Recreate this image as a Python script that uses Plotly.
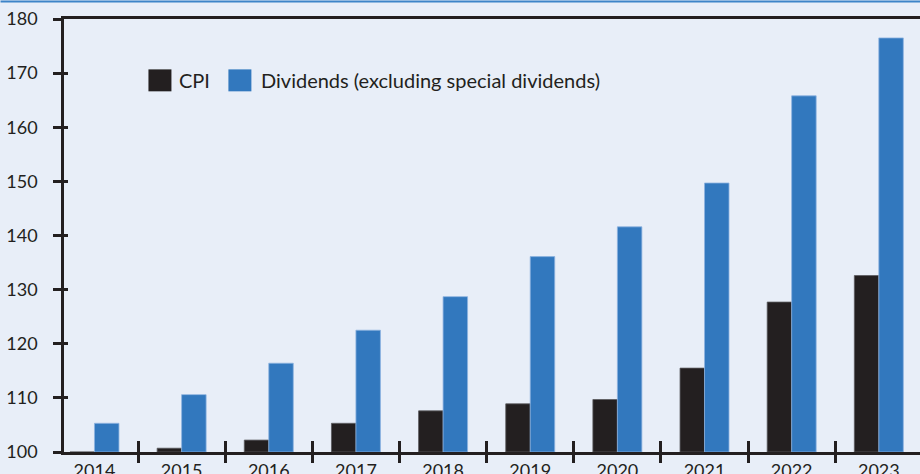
import plotly.graph_objects as go

# ---- data ----
years = ["2014", "2015", "2016", "2017", "2018", "2019", "2020", "2021", "2022", "2023"]
cpi = [100.0, 100.7, 102.2, 105.3, 107.6, 108.9, 109.7, 115.5, 127.7, 132.6]
dividends = [105.3, 110.6, 116.4, 122.5, 128.7, 136.1, 141.6, 149.7, 165.8, 176.5]
series_names = ["CPI", "Dividends (excluding special dividends)"]
y_ticks = [100, 110, 120, 130, 140, 150, 160, 170, 180]

# ---- style ----
W, H = 920, 474
ML, MR, MT, MB = 63.5, 0, 18.5, 21.5
BG = "#E8EEF8"
INK = "#231F20"
BLUE = "#3278BE"
FONT = "Lato"

pos = list(range(len(years)))
boundaries = [i + 0.5 for i in pos[:-1]]
px_per_cat = 87.2
first_center_px = 94
x_lo = -(first_center_px - ML) / px_per_cat
x_hi = x_lo + (W - ML - MR) / px_per_cat

fig = go.Figure()
fig.add_bar(x=pos, y=[v - 100 for v in cpi], base=100, name=series_names[0],
            marker=dict(color=INK, line=dict(color="#5a5a5e", width=0.8)),
            showlegend=False)
fig.add_bar(x=pos, y=[v - 100 for v in dividends], base=100, name=series_names[1],
            marker=dict(color=BLUE, line=dict(color="#8DB3DF", width=0.8)),
            showlegend=False)

axis_font = dict(family=FONT, size=18, color=INK)

fig.update_layout(
    width=W, height=H,
    margin=dict(l=ML, r=MR, t=MT, b=MB, pad=0, autoexpand=False),
    paper_bgcolor=BG, plot_bgcolor=BG,
    barmode="group", bargap=0.438, bargroupgap=0,
    font=axis_font,
    xaxis=dict(range=[x_lo, x_hi], tickvals=pos, ticktext=years, ticks="",
               showgrid=False, zeroline=False, showline=True, linecolor=INK,
               linewidth=2.5, mirror=True, tickfont=axis_font, ticklabelstandoff=1,
               automargin=False),
    xaxis2=dict(range=[x_lo, x_hi], overlaying="x", anchor="y", side="bottom",
                tickvals=boundaries, ticks="outside", ticklen=10, tickwidth=2.5,
                tickcolor=INK, showticklabels=False, showgrid=False,
                zeroline=False, showline=False, automargin=False),
    xaxis3=dict(range=[x_lo, x_hi], overlaying="x", anchor="y", side="bottom",
                tickvals=boundaries, ticks="inside", ticklen=11, tickwidth=2.5,
                tickcolor=INK, showticklabels=False, showgrid=False,
                zeroline=False, showline=False, automargin=False),
    yaxis=dict(range=[100, 180], tickvals=y_ticks, ticks="outside", ticklen=8,
               tickwidth=2.5, tickcolor=INK, showgrid=False, zeroline=False,
               showline=True, linecolor=INK, linewidth=2.5, tickfont=axis_font,
               ticklabelstandoff=12, automargin=False),
    yaxis2=dict(range=[100, 180], overlaying="y", anchor="x", side="left",
                tickvals=y_ticks, ticks="inside", ticklen=4, tickwidth=2.5,
                tickcolor=INK, showticklabels=False, showgrid=False,
                zeroline=False, showline=False, automargin=False),
)
# invisible traces so overlay axes render
fig.add_scatter(x=[x_lo], y=[100], xaxis="x2", yaxis="y", mode="markers",
                marker=dict(opacity=0), showlegend=False, hoverinfo="skip")
fig.add_scatter(x=[x_lo], y=[100], xaxis="x3", yaxis="y2", mode="markers",
                marker=dict(opacity=0), showlegend=False, hoverinfo="skip")

# pixel -> paper helpers for legend & border
PW, PH = W - ML - MR, H - MT - MB
def px(xp):
    return (xp - ML) / PW
def py(yp):
    return (H - MB - yp) / PH

# top blue border of the page
fig.add_shape(type="line", xref="paper", yref="paper", x0=px(0), x1=px(W),
              y0=py(1), y1=py(1), line=dict(color="#3D84C8", width=2))

# legend built from keys + real text
legend_items = [(series_names[0], INK, 148, 177), (series_names[1], BLUE, 228, 259)]
for name, col, kx, tx in legend_items:
    fig.add_shape(type="rect", xref="paper", yref="paper",
                  x0=px(kx), x1=px(kx + 23), y0=py(91), y1=py(69),
                  fillcolor=col, line=dict(width=0))
    fig.add_annotation(text=name, xref="paper", yref="paper", x=px(tx), y=py(80),
                       xanchor="left", yanchor="middle", showarrow=False,
                       font=dict(family=FONT, size=20, color=INK))

fig.write_html(
    "out.html",
    config={"displayModeBar": False},
    post_script="document.body.style.margin='0';document.body.style.background='%s';" % BG,
)
